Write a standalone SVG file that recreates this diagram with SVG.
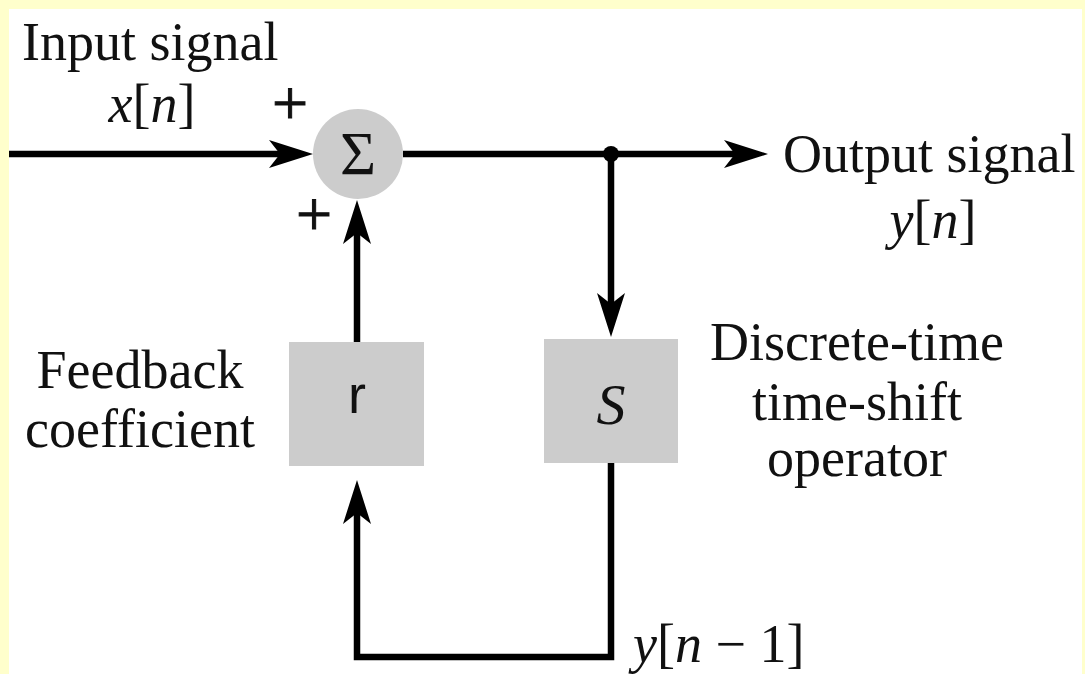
<svg xmlns="http://www.w3.org/2000/svg" width="1085" height="674" viewBox="0 0 1085 674">
  <style>
    .t { font-family: "Liberation Serif", "Times New Roman", serif; font-size: 54px; fill: #111; }
    .i { font-style: italic; }
    .pl { font-size: 64px; stroke: #111; stroke-width: 1; }
    .sans { font-family: "Liberation Sans", Arial, sans-serif; font-size: 54px; fill: #111; }
    .wire { stroke: #000; stroke-width: 6.5; fill: none; }
    .blk { fill: #cccccc; }
  </style>
  <defs>
    <marker id="arr" viewBox="-44 -15 44 30" refX="-30" refY="0" markerWidth="44" markerHeight="30" orient="auto" markerUnits="userSpaceOnUse">
      <path d="M0,0 L-44,-14 L-33,0 L-44,14 Z" fill="#000"/>
    </marker>
  </defs>
  <rect x="0" y="0" width="1085" height="674" fill="#ffffcc"/>
  <rect x="9" y="9" width="1073" height="665" fill="#ffffff"/>

  <g id="connectors">
    <line class="wire" x1="9" y1="154" x2="283" y2="154" marker-end="url(#arr)"/>
    <line class="wire" x1="403" y1="154" x2="738" y2="154" marker-end="url(#arr)"/>
    <line class="wire" x1="611" y1="154" x2="611" y2="307" marker-end="url(#arr)"/>
    <line class="wire" x1="357" y1="342" x2="357" y2="230" marker-end="url(#arr)"/>
    <polyline class="wire" points="611,463 611,657 357,657 357,510" marker-end="url(#arr)"/>
    <circle cx="611" cy="154" r="8" fill="#000"/>
  </g>

  <g id="sum">
    <circle class="blk" cx="358" cy="154" r="45"/>
    <text class="t" x="358" y="174" text-anchor="middle" style="font-size:62px">Σ</text>
  </g>

  <g id="feedback">
    <rect class="blk" x="289" y="342" width="135" height="124"/>
    <text class="sans" x="357" y="413" text-anchor="middle">r</text>
  </g>

  <g id="shift">
    <rect class="blk" x="544" y="339" width="134" height="124"/>
    <text class="t i" x="611" y="424" text-anchor="middle" style="font-size:58px">S</text>
  </g>

  <g id="labels">
    <text class="t" x="22" y="60">Input signal</text>
    <text class="t" x="152" y="122" text-anchor="middle"><tspan class="i">x</tspan>[<tspan class="i">n</tspan>]</text>
    <text class="t pl" x="290" y="125" text-anchor="middle">+</text>
    <text class="t pl" x="314" y="236" text-anchor="middle">+</text>
    <text class="t" x="783" y="172">Output signal</text>
    <text class="t" x="933" y="238" text-anchor="middle"><tspan class="i">y</tspan>[<tspan class="i">n</tspan>]</text>
    <text class="t" x="140" y="388" text-anchor="middle">Feedback</text>
    <text class="t" x="140" y="447" text-anchor="middle">coefficient</text>
    <text class="t" x="857" y="360" text-anchor="middle">Discrete-time</text>
    <text class="t" x="857" y="420" text-anchor="middle">time-shift</text>
    <text class="t" x="857" y="476" text-anchor="middle">operator</text>
    <text class="t" x="633" y="662"><tspan class="i">y</tspan>[<tspan class="i">n</tspan> − 1]</text>
  </g>
</svg>
